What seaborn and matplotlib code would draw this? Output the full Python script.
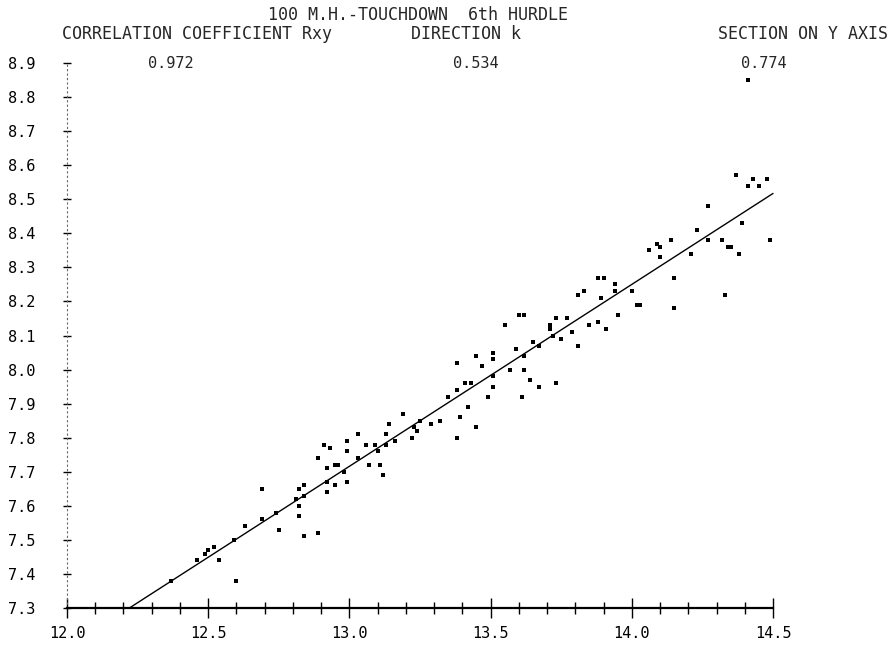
import matplotlib
matplotlib.use("Agg")
import matplotlib.pyplot as plt
import seaborn as sns
import numpy as np
import pandas as pd
from matplotlib.ticker import MultipleLocator, FixedLocator

# ---- data ----
touchdown_x = [12.37, 12.46, 12.49, 12.50, 12.52, 12.54, 12.59, 12.60, 12.63, 12.69,
               12.69, 12.74, 12.75, 12.81, 12.82, 12.82, 12.84, 12.82, 12.84, 12.84,
               12.89, 12.89, 12.91, 12.93, 12.92, 12.92, 12.92, 12.95, 12.95, 12.96,
               12.98, 12.99, 12.99, 12.99, 13.03, 13.03, 13.06, 13.07, 13.09, 13.10,
               13.11, 13.12, 13.13, 13.13, 13.14, 13.16, 13.19, 13.22, 13.23, 13.24,
               13.25, 13.29, 13.32, 13.35, 13.38, 13.38, 13.38, 13.39, 13.41, 13.43,
               13.42, 13.45, 13.45, 13.47, 13.49, 13.51, 13.51, 13.51, 13.51, 13.55,
               13.57, 13.59, 13.60, 13.62, 13.61, 13.62, 13.62, 13.64, 13.65, 13.67,
               13.67, 13.71, 13.71, 13.72, 13.73, 13.73, 13.75, 13.77, 13.79, 13.81,
               13.83, 13.81, 13.85, 13.88, 13.90, 13.88, 13.89, 13.91, 13.94, 13.94,
               13.95, 14.00, 14.02, 14.03, 14.06, 14.09, 14.10, 14.10, 14.14, 14.15,
               14.15, 14.21, 14.23, 14.27, 14.27, 14.32, 14.33, 14.34, 14.35, 14.37,
               14.38, 14.39, 14.41, 14.43, 14.45, 14.48, 14.49, 14.41]
hurdle6_y = [7.38, 7.44, 7.46, 7.47, 7.48, 7.44, 7.50, 7.38, 7.54, 7.65,
             7.56, 7.58, 7.53, 7.62, 7.60, 7.65, 7.66, 7.57, 7.51, 7.63,
             7.52, 7.74, 7.78, 7.77, 7.71, 7.67, 7.64, 7.66, 7.72, 7.72,
             7.70, 7.79, 7.76, 7.67, 7.81, 7.74, 7.78, 7.72, 7.78, 7.76,
             7.72, 7.69, 7.81, 7.78, 7.84, 7.79, 7.87, 7.80, 7.83, 7.82,
             7.85, 7.84, 7.85, 7.92, 7.80, 7.94, 8.02, 7.86, 7.96, 7.96,
             7.89, 8.04, 7.83, 8.01, 7.92, 8.05, 8.03, 7.98, 7.95, 8.13,
             8.00, 8.06, 8.16, 8.16, 7.92, 8.04, 8.00, 7.97, 8.08, 8.07,
             7.95, 8.13, 8.12, 8.10, 8.15, 7.96, 8.09, 8.15, 8.11, 8.22,
             8.23, 8.07, 8.13, 8.27, 8.27, 8.14, 8.21, 8.12, 8.25, 8.23,
             8.16, 8.23, 8.19, 8.19, 8.35, 8.37, 8.36, 8.33, 8.38, 8.27,
             8.18, 8.34, 8.41, 8.48, 8.38, 8.38, 8.22, 8.36, 8.36, 8.57,
             8.34, 8.43, 8.54, 8.56, 8.54, 8.56, 8.38, 8.85]

corr_rxy = "0.972"
direction_k = 0.534
section_y = 0.774
line_x_ends = [12.22, 14.50]

x_tick_labels = ["12.0", "12.5", "13.0", "13.5", "14.0", "14.5"]
y_tick_values = [7.3, 7.4, 7.5, 7.6, 7.7, 7.8, 7.9, 8.0, 8.1, 8.2, 8.3, 8.4, 8.5, 8.6, 8.7, 8.8, 8.9]

# ---- style ----
sns.set_style("white")
plt.rcParams['font.family'] = ['DejaVu Sans Mono', 'DejaVu Sans']
FS = 11
HFS = 12

W, H = 894, 646
fig = plt.figure(figsize=(W / 100, H / 100), dpi=100)
ax = fig.add_axes([67 / W, 38 / H, (773 - 67) / W, (608 - 63) / H])

df = pd.DataFrame({"x": touchdown_x, "y": hurdle6_y})
sns.scatterplot(data=df, x="x", y="y", ax=ax, color="black", marker="s",
                s=10, linewidth=0, clip_on=False, zorder=3)

line_df = pd.DataFrame({"x": line_x_ends,
                        "y": [direction_k * v + section_y for v in line_x_ends]})
sns.lineplot(data=line_df, x="x", y="y", ax=ax, color="black", linewidth=1.0,
             clip_on=False, zorder=2)

ax.set_xlim(12.0, 14.5)
ax.set_ylim(7.3, 8.9)
ax.set_xlabel("")
ax.set_ylabel("")

for s in ["top", "right"]:
    ax.spines[s].set_visible(False)
ax.spines["bottom"].set_linewidth(1.6)
ax.spines["bottom"].set_color("black")
ax.spines["left"].set_linewidth(0.8)
ax.spines["left"].set_color("#666666")
ax.spines["left"].set_linestyle((0, (1, 3)))

ax.xaxis.set_major_locator(FixedLocator([12.0, 12.5, 13.0, 13.5, 14.0, 14.5]))
ax.set_xticklabels(x_tick_labels)
ax.xaxis.set_minor_locator(MultipleLocator(0.1))
ax.yaxis.set_major_locator(FixedLocator(y_tick_values))
ax.set_yticklabels([f"{v:.1f}" for v in y_tick_values])

ax.tick_params(axis="x", which="major", direction="inout", length=14, width=1.0,
               bottom=True, labelsize=FS, pad=6, colors="black")
ax.tick_params(axis="x", which="minor", direction="inout", length=8, width=1.0,
               bottom=True, colors="black")
ax.tick_params(axis="y", which="major", direction="inout", length=6, width=1.0,
               left=True, labelsize=FS, pad=20, colors="black")

# ---- header text ----
def fy(py):
    return 1 - py / H

fig.text(418 / W, fy(15), "100 M.H.-TOUCHDOWN  6th HURDLE", ha="center", va="center", fontsize=HFS)
fig.text(62 / W, fy(34), "CORRELATION COEFFICIENT Rxy", ha="left", va="center", fontsize=HFS)
fig.text(466 / W, fy(34), "DIRECTION k", ha="center", va="center", fontsize=HFS)
fig.text(888 / W, fy(34), "SECTION ON Y AXIS", ha="right", va="center", fontsize=HFS)
fig.text(171 / W, fy(63), corr_rxy, ha="center", va="center", fontsize=FS)
fig.text(476 / W, fy(63), f"{direction_k:.3f}", ha="center", va="center", fontsize=FS)
fig.text(764 / W, fy(63), f"{section_y:.3f}", ha="center", va="center", fontsize=FS)

fig.savefig("out.png", dpi=100, facecolor="white")
